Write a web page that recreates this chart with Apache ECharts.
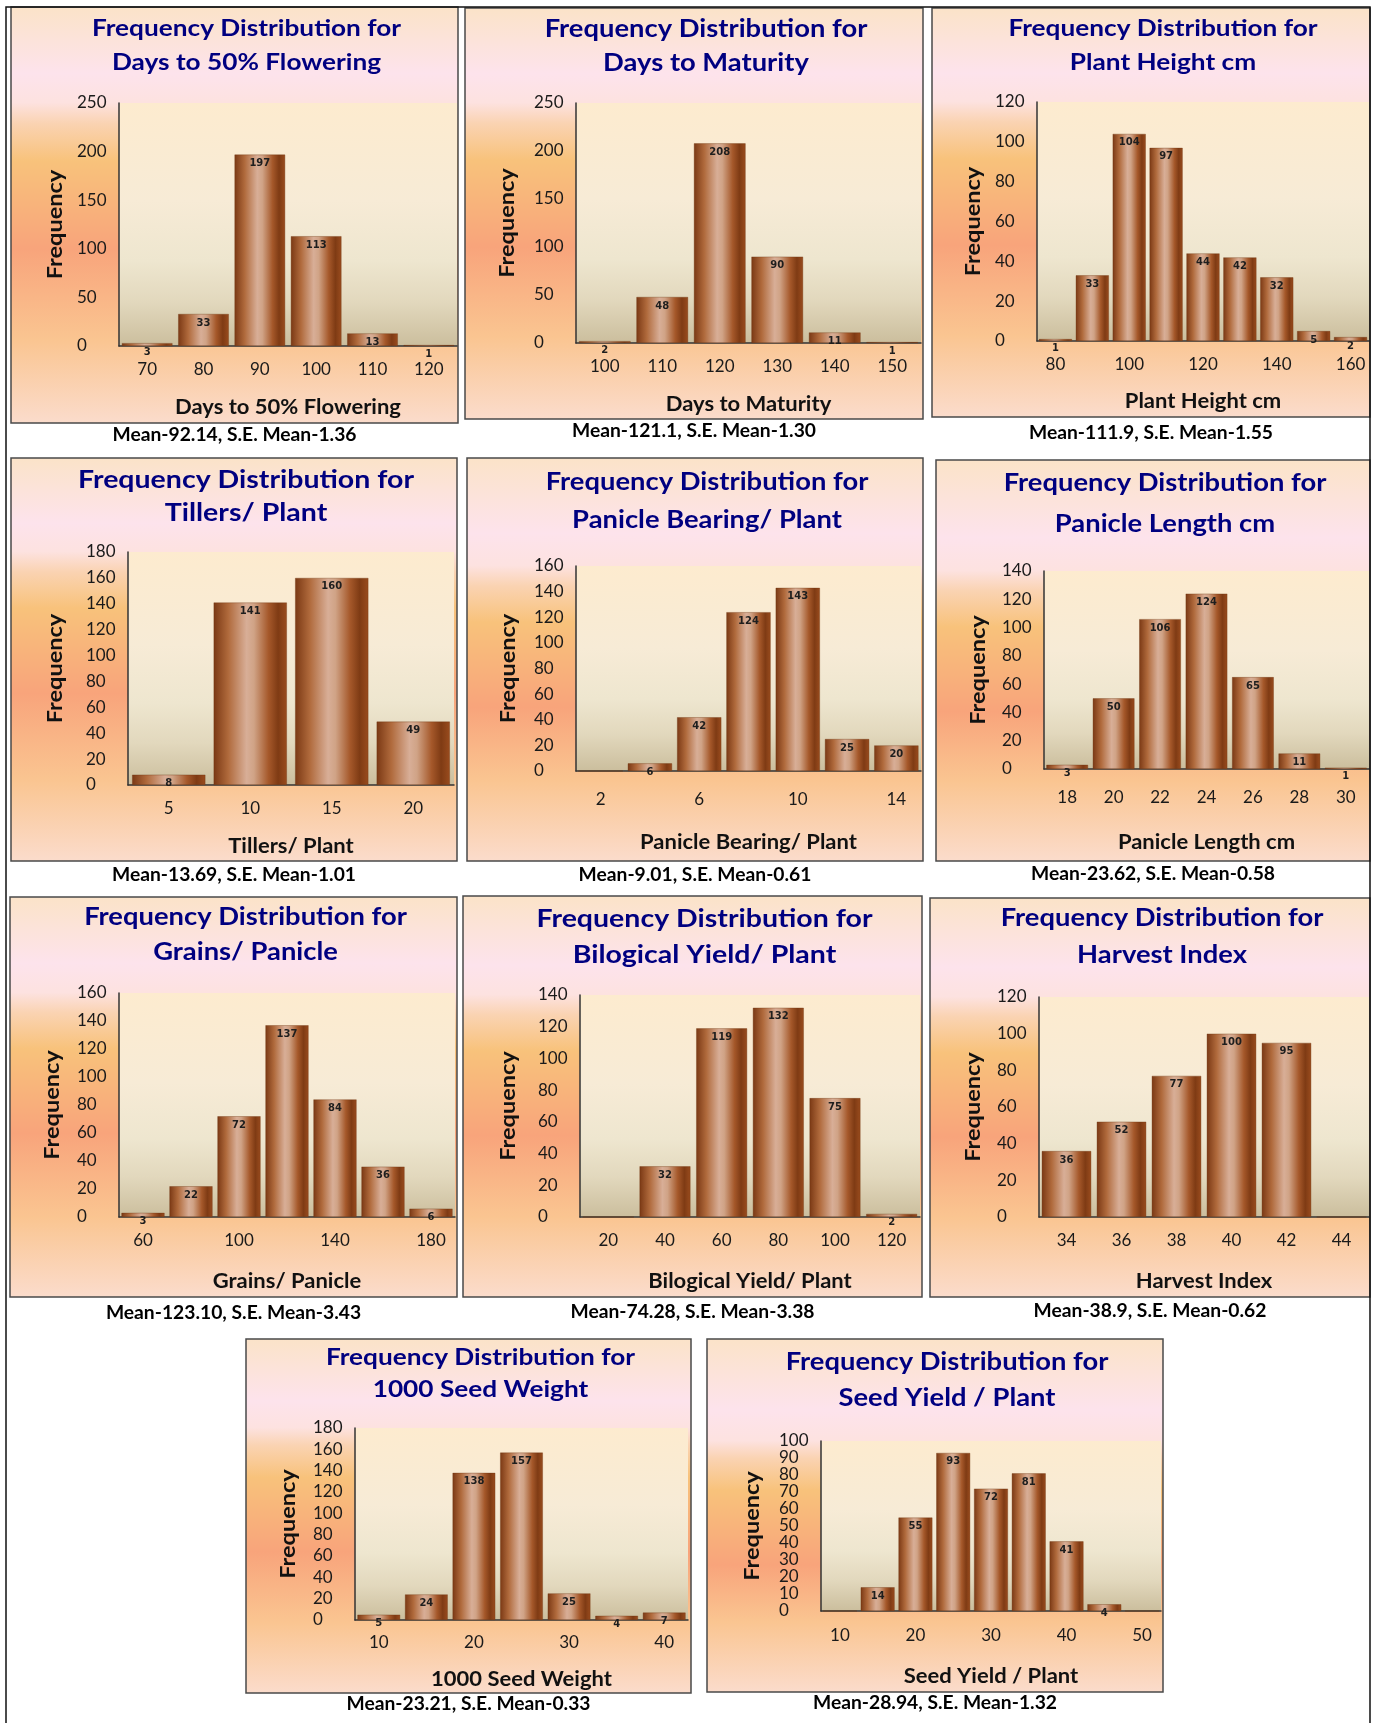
<!DOCTYPE html>
<html>
<head>
<meta charset="utf-8">
<script src="https://cdn.jsdelivr.net/npm/echarts@6/dist/echarts.min.js"></script>
<style>
  html, body { margin: 0; padding: 0; background: #fff; }
  #chart { width: 1376px; height: 1723px; }
</style>
</head>
<body>
<div id="chart"></div>
<script>
// ---- data ----
const flowerBins = ['70', '80', '90', '100', '110', '120'];
const flowerFreq = [3, 33, 197, 113, 13, 1];
const maturityBins = ['100', '110', '120', '130', '140', '150'];
const maturityFreq = [2, 48, 208, 90, 11, 1];
const heightBins = ['80', '90', '100', '110', '120', '130', '140', '150', '160'];
const heightFreq = [1, 33, 104, 97, 44, 42, 32, 5, 2];
const tillerBins = ['5', '10', '15', '20'];
const tillerFreq = [8, 141, 160, 49];
const bearingBins = ['2', '4', '6', '8', '10', '12', '14'];
const bearingFreq = [0, 6, 42, 124, 143, 25, 20];
const lengthBins = ['18', '20', '22', '24', '26', '28', '30'];
const lengthFreq = [3, 50, 106, 124, 65, 11, 1];
const grainBins = ['60', '80', '100', '120', '140', '160', '180'];
const grainFreq = [3, 22, 72, 137, 84, 36, 6];
const bioBins = ['20', '40', '60', '80', '100', '120'];
const bioFreq = [0, 32, 119, 132, 75, 2];
const harvestBins = ['34', '36', '38', '40', '42', '44'];
const harvestFreq = [36, 52, 77, 100, 95, 0];
const seedWtBins = ['10', '15', '20', '25', '30', '35', '40'];
const seedWtFreq = [5, 24, 138, 157, 25, 4, 7];
const yieldBins = ['10', '15', '20', '25', '30', '35', '40', '45', '50'];
const yieldFreq = [0, 14, 55, 93, 72, 81, 41, 4, 0];

const traitNames = ['Days to 50% Flowering', 'Days to Maturity', 'Plant Height cm',
  'Tillers/ Plant', 'Panicle Bearing/ Plant', 'Panicle Length cm',
  'Grains/ Panicle', 'Bilogical Yield/ Plant', 'Harvest Index',
  '1000 Seed Weight', 'Seed Yield / Plant'];
const binLists = [flowerBins, maturityBins, heightBins, tillerBins, bearingBins, lengthBins,
  grainBins, bioBins, harvestBins, seedWtBins, yieldBins];
const freqLists = [flowerFreq, maturityFreq, heightFreq, tillerFreq, bearingFreq, lengthFreq,
  grainFreq, bioFreq, harvestFreq, seedWtFreq, yieldFreq];
const yMaxes = [250, 250, 120, 180, 160, 140, 160, 140, 120, 180, 100];
const ySteps = [50, 50, 20, 20, 20, 20, 20, 20, 20, 20, 10];
const labelSkip = [0, 0, 1, 0, 1, 0, 1, 0, 0, 1, 1];
const statTexts = ['Mean-92.14, S.E. Mean-1.36', 'Mean-121.1, S.E. Mean-1.30',
  'Mean-111.9, S.E. Mean-1.55', 'Mean-13.69, S.E. Mean-1.01', 'Mean-9.01, S.E. Mean-0.61',
  'Mean-23.62, S.E. Mean-0.58', 'Mean-123.10, S.E. Mean-3.43', 'Mean-74.28, S.E. Mean-3.38',
  'Mean-38.9, S.E. Mean-0.62', 'Mean-23.21, S.E. Mean-0.33', 'Mean-28.94, S.E. Mean-1.32'];

// ---- layout (pixels) ----
// panel box [x, y, w, h]
const boxes = [
  [11, 7, 447, 416], [465, 8, 458, 411], [932, 8, 438, 409],
  [11, 458, 446, 403], [467, 458, 456, 403], [936, 460, 434, 401],
  [10, 897, 447, 400], [463, 896, 459, 401], [930, 898, 440, 399],
  [246, 1339, 445, 354], [707, 1339, 456, 353]
];
// plot area [left, top, right, bottom]
const plots = [
  [119, 103, 457, 346], [576, 103, 921, 343], [1037, 102, 1369, 341],
  [128, 552, 454, 785], [576, 566, 921, 771], [1044, 571, 1369, 769],
  [119, 993, 455, 1217], [580, 995, 920, 1217], [1039, 997, 1369, 1217],
  [355, 1428, 688, 1620], [821, 1441, 1161, 1611]
];
const titleLineY = [[29, 63], [29, 63], [29, 63], [480, 513], [482, 520], [483, 524],
  [917, 952], [919, 955], [918, 955], [1358, 1390], [1362, 1398]];
const titleSize = [23, 24, 23, 25, 24, 24, 24, 25, 24, 23, 24];
const captionY = [435, 431, 433, 875, 875, 874, 1313, 1312, 1311, 1704, 1703];
const freqX = [55, 507, 973, 55, 508, 978, 52, 508, 973, 288, 752];
const xNameY = [408, 405, 402, 847, 843, 843, 1282, 1282, 1282, 1680, 1677];
const xLabelMargin = [15, 15, 15, 15, 20, 20, 15, 15, 15, 14, 16];

const chart = echarts.init(document.getElementById('chart'), null, { renderer: 'canvas' });

const plotFill = {
  type: 'linear', x: 0, y: 0, x2: 0, y2: 1,
  colorStops: [
    { offset: 0, color: '#fdebcf' },
    { offset: 0.4, color: '#f7ebd6' },
    { offset: 0.65, color: '#eee6cf' },
    { offset: 0.82, color: '#e2d8bd' },
    { offset: 1, color: '#cbbe9d' }
  ]
};
const barFill = {
  type: 'linear', x: 0, y: 0, x2: 1, y2: 0,
  colorStops: [
    { offset: 0, color: '#7a3814' },
    { offset: 0.2, color: '#b06a3c' },
    { offset: 0.45, color: '#d8ae97' },
    { offset: 0.55, color: '#d0a386' },
    { offset: 0.75, color: '#a5582a' },
    { offset: 0.88, color: '#7f3b14' },
    { offset: 1, color: '#9a4c1e' }
  ]
};

function panelFill(i) {
  const b = boxes[i];
  const tp = (plots[i][1] - b[1]) / b[3];
  return {
    type: 'linear', x: 0, y: 0, x2: 0, y2: 1,
    colorStops: [
      { offset: 0, color: '#fbe3c8' },
      { offset: tp * 0.7, color: '#fde3ec' },
      { offset: tp, color: '#fde2e0' },
      { offset: tp + 0.05, color: '#fad3b2' },
      { offset: tp + 0.14, color: '#f8c27b' },
      { offset: tp + 0.35, color: '#f8a47b' },
      { offset: 0.8, color: '#fac591' },
      { offset: 1, color: '#fbdccc' }
    ]
  };
}

const grids = [], xAxes = [], yAxes = [], series = [], graphics = [];

// outer table frame
graphics.push({
  type: 'polyline', z: 5, silent: true,
  shape: { points: [[6, 1723], [6, 7], [1370, 7], [1370, 1723]] },
  style: { stroke: '#111', lineWidth: 1.5, fill: null }
});

// centred text helper (Lato runs narrower than the original font, so stretch a bit)
function label(text, x, y, font, fill, stretch, rotation) {
  return {
    type: 'text', z: 10, silent: true, x: x, y: y,
    scaleX: stretch, rotation: rotation || 0,
    style: { text: text, fill: fill, align: 'center', verticalAlign: 'middle', font: font }
  };
}

traitNames.forEach(function (name, i) {
  const b = boxes[i], p = plots[i];
  grids.push({
    left: p[0], top: p[1], width: p[2] - p[0], height: p[3] - p[1],
    show: true, borderWidth: 0, backgroundColor: plotFill,
    containLabel: false, outerBoundsMode: 'none'
  });
  xAxes.push({
    type: 'category', gridIndex: i, data: binLists[i],
    axisLine: { lineStyle: { color: '#333', width: 1.5 } },
    axisTick: { show: false },
    splitLine: { show: false },
    axisLabel: {
      interval: labelSkip[i], margin: xLabelMargin[i],
      color: '#1a1a1a', fontFamily: 'Lato', fontSize: 17
    }
  });
  yAxes.push({
    type: 'value', gridIndex: i, min: 0, max: yMaxes[i], interval: ySteps[i],
    axisLine: { show: true, lineStyle: { color: '#333', width: 1.5 } },
    axisTick: { show: false },
    splitLine: { show: false },
    axisLabel: {
      align: 'left', margin: 42,
      color: '#1a1a1a', fontFamily: 'Lato', fontSize: 17
    }
  });
  series.push({
    type: 'bar', xAxisIndex: i, yAxisIndex: i, data: freqLists[i],
    barCategoryGap: '10%',
    itemStyle: { color: barFill, borderColor: 'rgba(110,50,15,0.6)', borderWidth: 0.6 },
    label: {
      show: true, position: 'insideTop', distance: 4,
      formatter: function (prm) { return prm.value ? String(prm.value) : ''; },
      fontFamily: 'DejaVu Sans', fontSize: 10, fontWeight: 'bold', color: '#1e1e1e'
    }
  });

  // panel background + border
  graphics.push({
    type: 'rect', z: -10, silent: true,
    shape: { x: b[0], y: b[1], width: b[2], height: b[3] },
    style: { fill: panelFill(i), stroke: '#4a4a4a', lineWidth: 1.5 }
  });
  // two-line title
  const cx = b[0] + b[2] / 2 + 12;
  graphics.push(label('Frequency Distribution for', cx, titleLineY[i][0],
    'bold ' + titleSize[i] + 'px Lato', '#000080', 1.14));
  graphics.push(label(name, cx, titleLineY[i][1],
    'bold ' + titleSize[i] + 'px Lato', '#000080', 1.14));
  // axis names
  graphics.push(label(name, (p[0] + p[2]) / 2, xNameY[i], 'bold 20px Lato', '#111', 1.1));
  graphics.push(label('Frequency', freqX[i], (p[1] + p[3]) / 2, 'bold 21px Lato', '#111', 1.12, Math.PI / 2));
  // mean caption under the panel
  graphics.push(label(statTexts[i], b[0] + b[2] / 2, captionY[i], 'bold 18px Lato', '#000', 1.07));
});

chart.setOption({
  animation: false,
  backgroundColor: '#fff',
  grid: grids,
  xAxis: xAxes,
  yAxis: yAxes,
  series: series,
  graphic: { elements: graphics }
});
</script>
</body>
</html>
